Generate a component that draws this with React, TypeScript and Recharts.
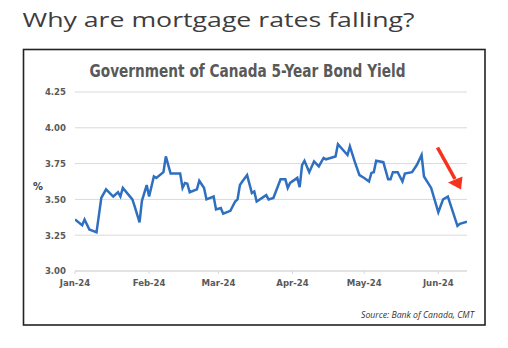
import React from 'react';
import { LineChart, Line, XAxis, YAxis, CartesianGrid } from 'recharts';

const dates = [
  '2024-01-01','2024-01-04','2024-01-05','2024-01-07','2024-01-10','2024-01-12','2024-01-14','2024-01-17','2024-01-19','2024-01-20',
  '2024-01-21','2024-01-25','2024-01-26','2024-01-28','2024-01-29','2024-01-31','2024-02-01','2024-02-03','2024-02-04','2024-02-07',
  '2024-02-08','2024-02-10','2024-02-14','2024-02-15','2024-02-16','2024-02-17','2024-02-18','2024-02-21','2024-02-22','2024-02-24',
  '2024-02-25','2024-02-28','2024-02-29','2024-03-02','2024-03-03','2024-03-06','2024-03-08','2024-03-09','2024-03-10','2024-03-11',
  '2024-03-13','2024-03-15','2024-03-16','2024-03-17','2024-03-21','2024-03-22','2024-03-24','2024-03-27','2024-03-29','2024-03-30',
  '2024-03-31','2024-04-03','2024-04-04','2024-04-05','2024-04-06','2024-04-08','2024-04-10','2024-04-12','2024-04-14','2024-04-15',
  '2024-04-19','2024-04-20','2024-04-24','2024-04-25','2024-04-27','2024-04-29','2024-05-01','2024-05-03','2024-05-04','2024-05-05',
  '2024-05-06','2024-05-09','2024-05-11','2024-05-12','2024-05-13','2024-05-15','2024-05-17','2024-05-18','2024-05-21','2024-05-23',
  '2024-05-25','2024-05-26','2024-05-29','2024-06-01','2024-06-03','2024-06-05','2024-06-09','2024-06-10','2024-06-13'
];

const yields = [
  3.36,3.32,3.36,3.29,3.27,3.51,3.57,3.52,3.55,3.52,
  3.58,3.50,3.45,3.34,3.49,3.60,3.52,3.66,3.65,3.69,
  3.80,3.68,3.68,3.58,3.615,3.61,3.55,3.57,3.63,3.58,
  3.50,3.52,3.43,3.44,3.40,3.42,3.485,3.50,3.60,3.625,
  3.67,3.545,3.555,3.485,3.53,3.50,3.51,3.64,3.64,3.58,
  3.615,3.65,3.585,3.74,3.77,3.69,3.765,3.73,3.79,3.78,
  3.80,3.885,3.81,3.87,3.765,3.67,3.65,3.625,3.685,3.69,
  3.77,3.76,3.64,3.64,3.69,3.69,3.625,3.68,3.69,3.74,
  3.81,3.66,3.58,3.41,3.50,3.52,3.315,3.33,3.345
];

const monthLabels = ['Jan-24', 'Feb-24', 'Mar-24', 'Apr-24', 'May-24', 'Jun-24'];
const monthStarts = ['2024-01-01', '2024-02-01', '2024-03-01', '2024-04-01', '2024-05-01', '2024-06-01'];
const yTicks = [3.0, 3.25, 3.5, 3.75, 4.0, 4.25];

const DAY0 = Date.UTC(2024, 0, 1);
const dayOf = (s: string) => {
  const [y, m, d] = s.split('-').map(Number);
  return Math.round((Date.UTC(y, m - 1, d) - DAY0) / 86400000);
};

const data = dates.map((d, i) => ({ day: dayOf(d), value: yields[i] }));
const xTicks = monthStarts.map(dayOf);
const labelFor = (v: number) => {
  const i = xTicks.indexOf(v);
  return i >= 0 ? monthLabels[i] : '';
};

const condensed = '"Liberation Sans Narrow", "DejaVu Sans Condensed", "Arial Narrow", sans-serif';

export default function App() {
  return (
    <div style={{ position: 'absolute', left: 0, top: 0, width: 508, height: 348, background: '#fff' }}>
      <svg width={508} height={348} style={{ position: 'absolute', left: 0, top: 0 }}>
        <text x={22.5} y={26.5} fontFamily='"Open Sans", sans-serif' fontSize={20.5} fill="#3d3d3d" textLength={392} lengthAdjust="spacingAndGlyphs">
          Why are mortgage rates falling?
        </text>
        <rect x={23.5} y={49.5} width={461.5} height={275.5} fill="none" stroke="#222" strokeWidth={1.6} />
      </svg>
      <div style={{ position: 'absolute', left: 0, top: 0 }}>
        <LineChart width={508} height={348} data={data} margin={{ top: 92, right: 41, bottom: 47, left: 25 }}>
          <CartesianGrid horizontal vertical={false} stroke="#d9d9d9" strokeWidth={1} />
          <XAxis
            dataKey="day"
            type="number"
            domain={[0, 164]}
            ticks={xTicks}
            tickFormatter={labelFor}
            height={30}
            axisLine={{ stroke: '#d9d9d9' }}
            tickLine={{ stroke: '#d9d9d9' }}
            tickSize={3}
            tickMargin={5}
            tick={{ fill: '#595959', fontSize: 9.5, fontWeight: 700, fontFamily: condensed }}
            allowDataOverflow
          />
          <YAxis
            type="number"
            domain={[3, 4.25]}
            ticks={yTicks}
            tickFormatter={(v: number) => v.toFixed(2)}
            width={50}
            axisLine={false}
            tickLine={false}
            tickMargin={3}
            tick={{ fill: '#595959', fontSize: 9.5, fontWeight: 700, fontFamily: condensed }}
            allowDataOverflow
          />
          <Line
            type="linear"
            dataKey="value"
            stroke="#2f6fc0"
            strokeWidth={2.5}
            dot={false}
            isAnimationActive={false}
          />
        </LineChart>
      </div>
      <svg width={508} height={348} style={{ position: 'absolute', left: 0, top: 0, pointerEvents: 'none' }}>
        <text x={89.5} y={76.5} fontFamily={condensed} fontWeight={700} fontSize={18} fill="#595959" textLength={316} lengthAdjust="spacingAndGlyphs">
          Government of Canada 5-Year Bond Yield
        </text>
        <text x={33} y={190} fontFamily={condensed} fontWeight={700} fontSize={11} fill="#404040">%</text>
        <text x={361} y={317.5} fontFamily='"Open Sans", sans-serif' fontStyle="italic" fontSize={8.5} fill="#333" textLength={113} lengthAdjust="spacingAndGlyphs">
          Source: Bank of Canada, CMT
        </text>
        <line x1={437.5} y1={147.5} x2={455} y2={179} stroke="#f5321c" strokeWidth={3.6} />
        <polygon points="448,182.5 462.5,176.5 461,189.5" fill="#f5321c" />
      </svg>
    </div>
  );
}
